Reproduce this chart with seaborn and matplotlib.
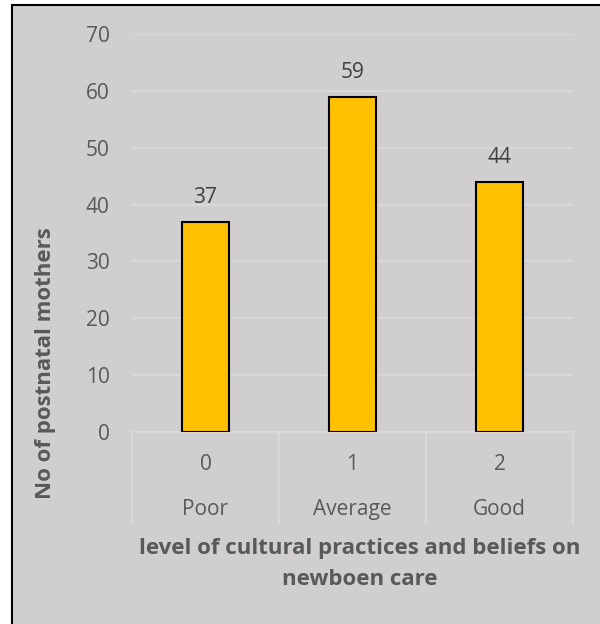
import numpy as np
import pandas as pd
import matplotlib
matplotlib.use("Agg")
import matplotlib.pyplot as plt
import matplotlib.transforms as mtransforms
from matplotlib.patches import Rectangle
import seaborn as sns

# =========================
# DATA
# =========================
codes = ["0", "1", "2"]
levels = ["Poor", "Average", "Good"]
mothers = [37, 59, 44]

df = pd.DataFrame({"code": codes, "level": levels, "mothers": mothers})

# =========================
# STYLE
# =========================
sns.set_style("white")
plt.rcParams["font.family"] = ["Open Sans", "DejaVu Sans"]

bg = "#D0CECE"
grid_col = "#DCDBDB"
txt = "#595959"

fig = plt.figure(figsize=(6, 6.24), dpi=100)
fig.patch.set_facecolor("white")

# gray chart area with black border on left/top (cropped screenshot)
frame = Rectangle((12 / 600, -0.1), 1.2, 1.1 - 5 / 624,
                  transform=fig.transFigure, facecolor=bg,
                  edgecolor="black", linewidth=1.5, zorder=-10)
fig.patches.append(frame)

ax = fig.add_axes([132 / 600, 1 - 432 / 624, 441 / 600, 398 / 624])
ax.set_facecolor(bg)

sns.barplot(data=df, x="code", y="mothers", order=codes, color="#FFC000",
            edgecolor="black", linewidth=1.5, width=0.324, saturation=1,
            ax=ax, zorder=3)

ax.set_ylim(0, 70)
ax.set_xlim(-0.5, 2.5)
ax.set_yticks(range(0, 71, 10))
ax.yaxis.grid(True, color=grid_col, linewidth=1.2, zorder=0)
ax.set_axisbelow(True)
for s in ax.spines.values():
    s.set_visible(False)

ax.tick_params(axis="y", length=0, pad=16, labelsize=15, labelcolor=txt)
ax.tick_params(axis="x", length=0, pad=16, labelsize=15, labelcolor=txt)

for c in ax.containers:
    ax.bar_label(c, padding=10, fontsize=15, color="#404040")

# second level category labels and separators
trans = mtransforms.blended_transform_factory(ax.transData, ax.transAxes)
for i, lv in enumerate(levels):
    ax.text(i, -0.195, lv, transform=trans, ha="center", va="center",
            fontsize=15, color=txt)
for xs in [-0.5, 0.5, 1.5, 2.5]:
    ax.plot([xs, xs], [0, -0.232], transform=trans, color=grid_col,
            linewidth=1.2, clip_on=False)
ax.plot([-0.5, 2.5], [0, 0], transform=trans, color=grid_col,
        linewidth=1.2, clip_on=False, zorder=1)

ax.set_xlabel("level of cultural practices and beliefs on\nnewboen care",
              fontsize=16, fontweight="bold", color=txt, linespacing=1.6,
              va="center")
ax.xaxis.set_label_coords(0.516, -0.332)
ax.set_ylabel("No of postnatal mothers", fontsize=16, fontweight="bold",
              color=txt, va="center")
ax.yaxis.set_label_coords(-0.197, 0.173)

fig.savefig("out.png", dpi=100, facecolor=fig.get_facecolor())
